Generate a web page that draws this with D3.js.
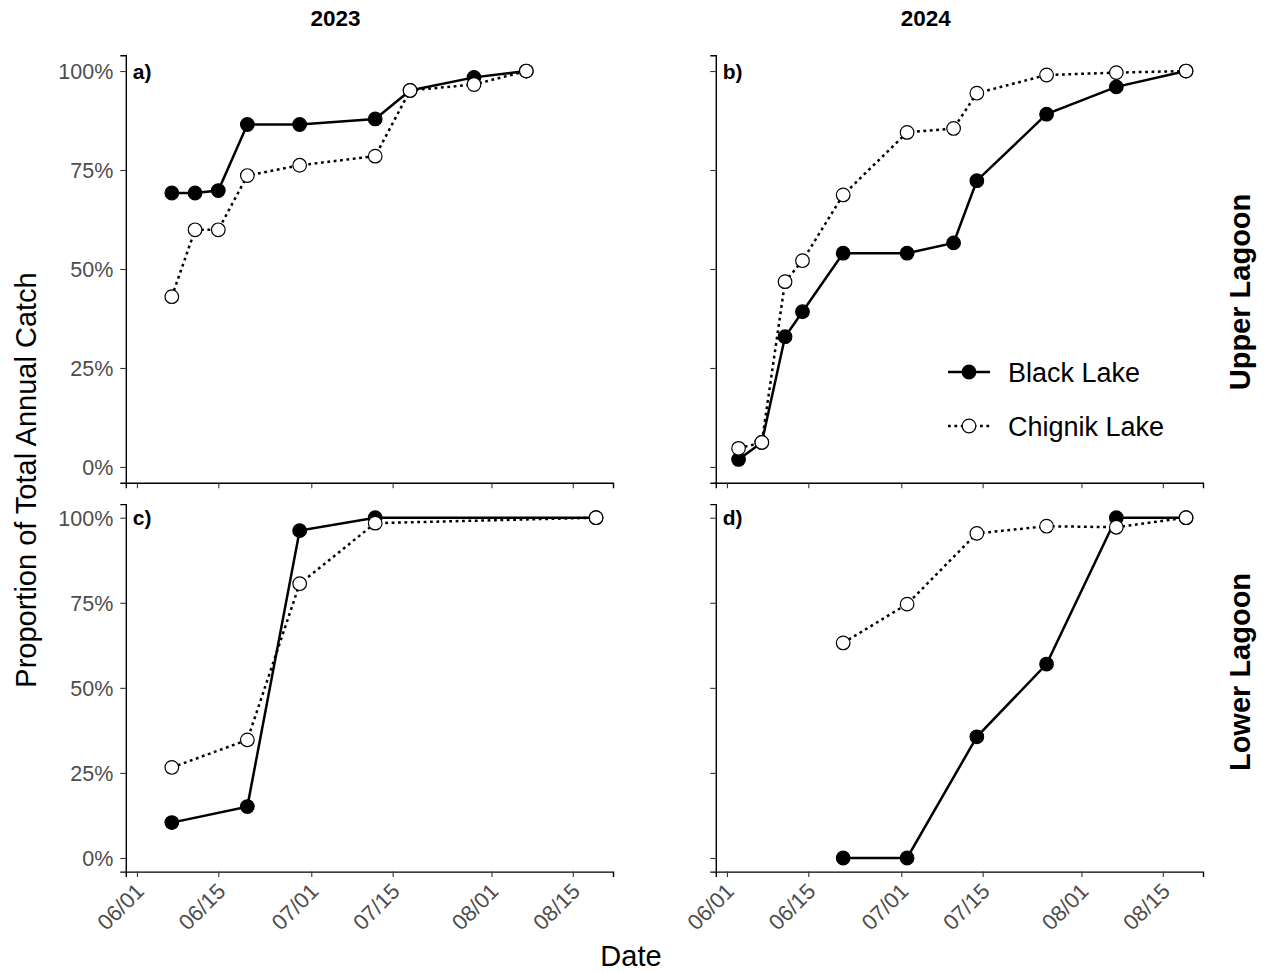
<!DOCTYPE html>
<html>
<head>
<meta charset="utf-8">
<script src="https://cdn.jsdelivr.net/npm/d3@7"></script>
<style>
  body { margin: 0; background: #fff; }
  svg { display: block; }
  text { font-family: "Liberation Sans", Arial, Helvetica, sans-serif; }
</style>
</head>
<body>
<svg id="chart" width="1265" height="972"></svg>
<script>
// ---- data -------------------------------------------------------------
const years = ["2023", "2024"];
const lagoons = ["Upper Lagoon", "Lower Lagoon"];
const seriesNames = ["Black Lake", "Chignik Lake"];
const panelTags = ["a)", "b)", "c)", "d)"];
const yTickValues = [0, 0.25, 0.5, 0.75, 1];
const xTickLabels = ["06/01", "06/15", "07/01", "07/15", "08/01", "08/15"];

// cumulative proportion of total annual catch, by sampling date (MM/DD)
const upper2023Dates   = ["06/07", "06/11", "06/15", "06/20", "06/29", "07/12", "07/18", "07/29", "08/07"];
const upper2023Black   = [0.692, 0.692, 0.698, 0.865, 0.865, 0.879, 0.951, 0.984, 1.0];
const upper2023Chignik = [0.430, 0.599, 0.599, 0.736, 0.762, 0.785, 0.951, 0.966, 1.0];

const lower2023Dates   = ["06/07", "06/20", "06/29", "07/12", "08/19"];
const lower2023Black   = [0.104, 0.151, 0.962, 1.0, 1.0];
const lower2023Chignik = [0.266, 0.347, 0.806, 0.984, 1.0];

const upper2024Dates   = ["06/03", "06/07", "06/11", "06/14", "06/21", "07/02", "07/10", "07/14", "07/26", "08/07", "08/19"];
const upper2024Black   = [0.019, 0.062, 0.329, 0.392, 0.540, 0.540, 0.566, 0.723, 0.891, 0.960, 1.0];
const upper2024Chignik = [0.047, 0.062, 0.468, 0.521, 0.687, 0.845, 0.855, 0.944, 0.990, 0.996, 1.0];

const lower2024Dates   = ["06/21", "07/02", "07/14", "07/26", "08/07", "08/19"];
const lower2024Black   = [0.0, 0.0, 0.356, 0.570, 1.0, 1.0];
const lower2024Chignik = [0.632, 0.746, 0.954, 0.975, 0.972, 1.0];

// ---- helpers ----------------------------------------------------------
const md = s => { const [m, d] = s.split("/").map(Number); return new Date(2000, m - 1, d); };
const zip = (dates, vals) => dates.map((d, i) => ({ date: md(d), v: vals[i] }));

const panels = [
  { row: 0, col: 0, tag: panelTags[0], series: [zip(upper2023Dates, upper2023Black), zip(upper2023Dates, upper2023Chignik)] },
  { row: 0, col: 1, tag: panelTags[1], series: [zip(upper2024Dates, upper2024Black), zip(upper2024Dates, upper2024Chignik)] },
  { row: 1, col: 0, tag: panelTags[2], series: [zip(lower2023Dates, lower2023Black), zip(lower2023Dates, lower2023Chignik)] },
  { row: 1, col: 1, tag: panelTags[3], series: [zip(lower2024Dates, lower2024Black), zip(lower2024Dates, lower2024Chignik)] }
];

// ---- layout -----------------------------------------------------------
const colX = [[125.8, 613], [715.8, 1203]];
const rowY = [[482.8, 55.2], [871.6, 504.1]];
const xDomain = [new Date(2000, 4, 30, 2), new Date(2000, 7, 21, 22)];
const yDomain = [-0.04, 1.04];

const styles = [
  { stroke: "#000", dash: null, fill: "#000" },
  { stroke: "#000", dash: "2.8,3.6", fill: "#fff" }
];
const pointR = 6.8;

const svg = d3.select("#chart");
const tickColor = "#333";
const labelColor = "#4d4d4d";
const tickFont = 21.5;

panels.forEach(p => {
  const x = d3.scaleTime().domain(xDomain).range(colX[p.col]);
  const y = d3.scaleLinear().domain(yDomain).range(rowY[p.row]);
  const g = svg.append("g");

  // y axis
  const yAxis = d3.axisLeft(y).tickValues(yTickValues).tickSizeOuter(0).tickSize(5.5)
    .tickFormat(p.col === 0 ? d3.format(".0%") : "");
  const ya = g.append("g").attr("transform", `translate(${colX[p.col][0]},0)`).call(yAxis);
  ya.select(".domain").attr("stroke", "#000").attr("stroke-width", 1.4);
  ya.selectAll(".tick line").attr("stroke", tickColor).attr("stroke-width", 1.1);
  ya.selectAll(".tick text").attr("fill", labelColor).attr("font-size", tickFont)
    .attr("x", -12.5).attr("dy", "0.36em");

  // x axis
  const xAxis = d3.axisBottom(x).tickValues(xTickLabels.map(md)).tickSizeOuter(0).tickSize(5.5)
    .tickFormat(p.row === 1 ? d3.timeFormat("%m/%d") : "");
  const xa = g.append("g").attr("transform", `translate(0,${rowY[p.row][0]})`).call(xAxis);
  xa.select(".domain").attr("stroke", "#000").attr("stroke-width", 1.4);
  xa.selectAll(".tick line").attr("stroke", tickColor).attr("stroke-width", 1.1);
  xa.selectAll(".tick text").attr("fill", labelColor).attr("font-size", 22)
    .attr("y", null).attr("dy", null)
    .attr("text-anchor", "end")
    .attr("transform", "translate(8,21) rotate(-45)");

  // lines first, then points (Chignik drawn over Black)
  const line = d3.line().x(d => x(d.date)).y(d => y(d.v));
  p.series.forEach((s, i) => {
    g.append("path").datum(s).attr("d", line)
      .attr("fill", "none").attr("stroke", styles[i].stroke).attr("stroke-width", 2.5)
      .attr("stroke-dasharray", styles[i].dash);
  });
  p.series.forEach((s, i) => {
    g.selectAll(null).data(s).join("circle")
      .attr("cx", d => x(d.date)).attr("cy", d => y(d.v)).attr("r", pointR)
      .attr("fill", styles[i].fill).attr("stroke", "#000").attr("stroke-width", 1.2);
  });

  // panel tag
  g.append("text").attr("x", colX[p.col][0] + 7).attr("y", y(1) + 7.5)
    .attr("font-size", 21).attr("font-weight", "bold").attr("fill", "#000").text(p.tag);
});

// column titles
svg.append("text").attr("x", 335.5).attr("y", 26).attr("text-anchor", "middle")
  .attr("font-size", 22.5).attr("font-weight", "bold").text(years[0]);
svg.append("text").attr("x", 925.7).attr("y", 26).attr("text-anchor", "middle")
  .attr("font-size", 22.5).attr("font-weight", "bold").text(years[1]);

// row labels
[[292, lagoons[0]], [672, lagoons[1]]].forEach(([cy, t]) => {
  svg.append("text").attr("transform", `translate(1250,${cy}) rotate(-90)`)
    .attr("text-anchor", "middle").attr("font-size", 29).attr("font-weight", "bold").text(t);
});

// axis titles
svg.append("text").attr("transform", "translate(36,480) rotate(-90)")
  .attr("text-anchor", "middle").attr("font-size", 29).attr("fill", "#000")
  .text("Proportion of Total Annual Catch");
svg.append("text").attr("x", 631).attr("y", 966).attr("text-anchor", "middle")
  .attr("font-size", 29).attr("fill", "#000").text("Date");

// legend inside panel b
const legend = svg.append("g").attr("transform", "translate(948,372)");
seriesNames.forEach((name, i) => {
  const row = legend.append("g").attr("transform", `translate(0,${i * 54})`);
  row.append("line").attr("x1", 0).attr("x2", 42).attr("y1", 0).attr("y2", 0)
    .attr("stroke", "#000").attr("stroke-width", 2.5).attr("stroke-dasharray", styles[i].dash);
  row.append("circle").attr("cx", 21).attr("cy", 0).attr("r", pointR)
    .attr("fill", styles[i].fill).attr("stroke", "#000").attr("stroke-width", 1.2);
  row.append("text").attr("x", 60).attr("y", 0).attr("dy", "0.36em")
    .attr("font-size", 27).attr("fill", "#000").text(name);
});
</script>
</body>
</html>
